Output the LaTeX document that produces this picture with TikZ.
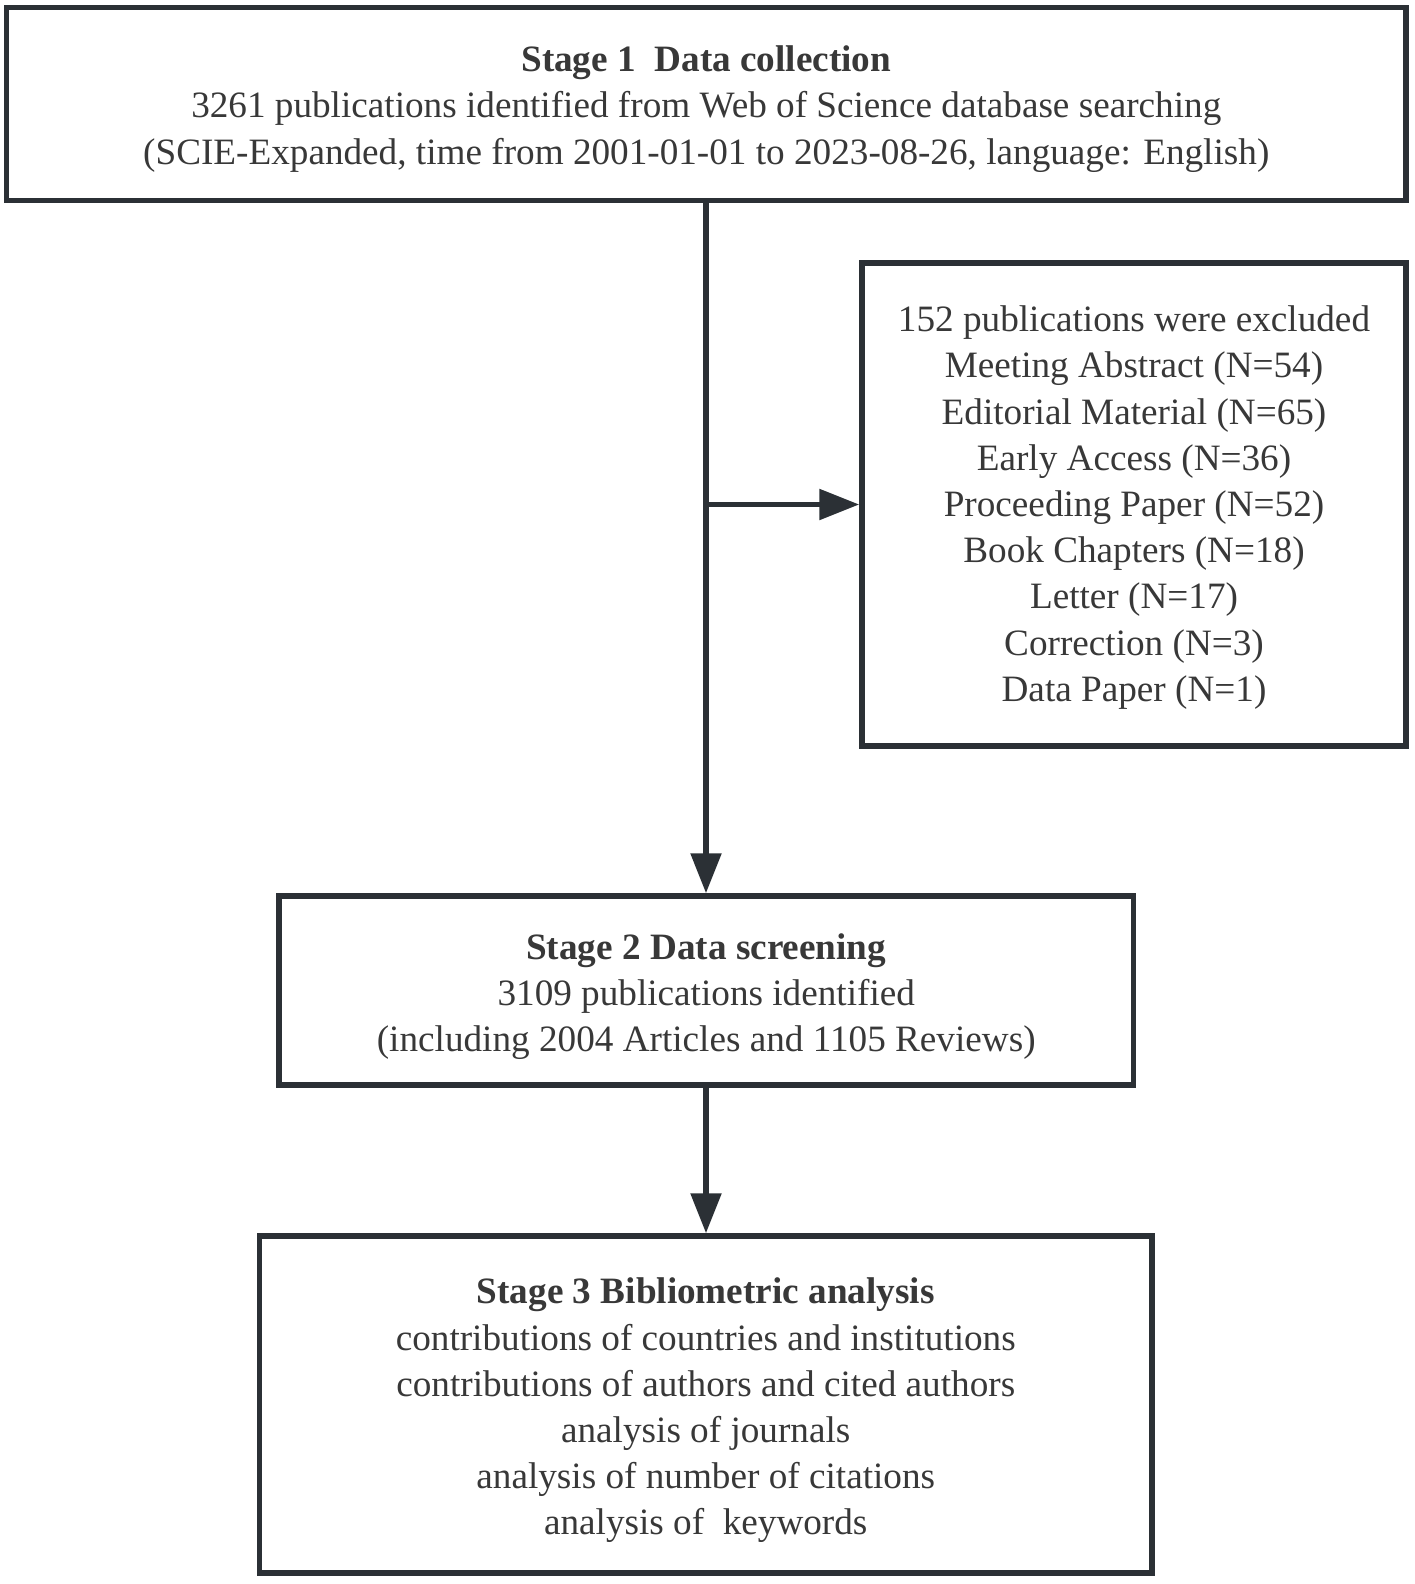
\documentclass[tikz,border=0pt]{standalone}
\usepackage{fontspec}
\setmainfont{Liberation Serif}
\usetikzlibrary{arrows.meta}
\definecolor{linec}{HTML}{2B3035}
\definecolor{textc}{HTML}{383838}
\begin{document}
\begin{tikzpicture}[x=0.5pt,y=-0.5pt,
  box/.style={draw=linec, line width=2.75pt, inner sep=0pt, fill=white},
  txt/.style={inner sep=0pt, align=center, text=textc,
    font=\fontsize{18.6pt}{23.1pt}\selectfont},
  conn/.style={draw=linec, line width=2.75pt},
  arr/.style={conn, -{Triangle[length=20pt,width=15pt]}}]
\useasboundingbox[fill=white] (0,0) rectangle (1414,1584);
\node[box, minimum width=699.75pt, minimum height=96.25pt] (s1) at (706.25,104) {};
\node[txt] (t1) at ([yshift=-2.5pt]s1.center)
  {\textbf{Stage 1\ \ Data collection}\\
   3261 publications identified from Web of Science database searching\\
   (SCIE-Expanded, time from 2001-01-01 to 2023-08-26, language: English)};
\node[box, minimum width=272pt, minimum height=241.5pt] (ex) at (1134,504.5) {};
\node[txt] (tex) at ([yshift=-1.5pt]ex.center)
  {152 publications were excluded\\
   Meeting Abstract (N=54)\\
   Editorial Material (N=65)\\
   Early Access (N=36)\\
   Proceeding Paper (N=52)\\
   Book Chapters (N=18)\\
   Letter (N=17)\\
   Correction (N=3)\\
   Data Paper (N=1)};
\node[box, minimum width=427.25pt, minimum height=94.5pt] (s2) at (706.25,990.5) {};
\node[txt] (t2) at ([yshift=-3pt]s2.center)
  {\textbf{Stage 2 Data screening}\\
   3109 publications identified\\
   (including 2004 Articles and 1105 Reviews)};
\node[box, minimum width=446.25pt, minimum height=168.5pt] (s3) at (705.75,1404.5) {};
\node[txt] (t3) at ([yshift=-3pt]s3.center)
  {\textbf{Stage 3 Bibliometric analysis}\\
   contributions of countries and institutions\\
   contributions of authors and cited authors\\
   analysis of journals\\
   analysis of number of citations\\
   analysis of\ \ keywords};
\coordinate (br) at (706,504.5);
\draw[arr] (s1.south -| br) -- (s2.north -| br);
\draw[arr] (br) -- (ex.west);
\draw[arr] (s2.south -| br) -- (s3.north -| br);
\end{tikzpicture}
\end{document}
